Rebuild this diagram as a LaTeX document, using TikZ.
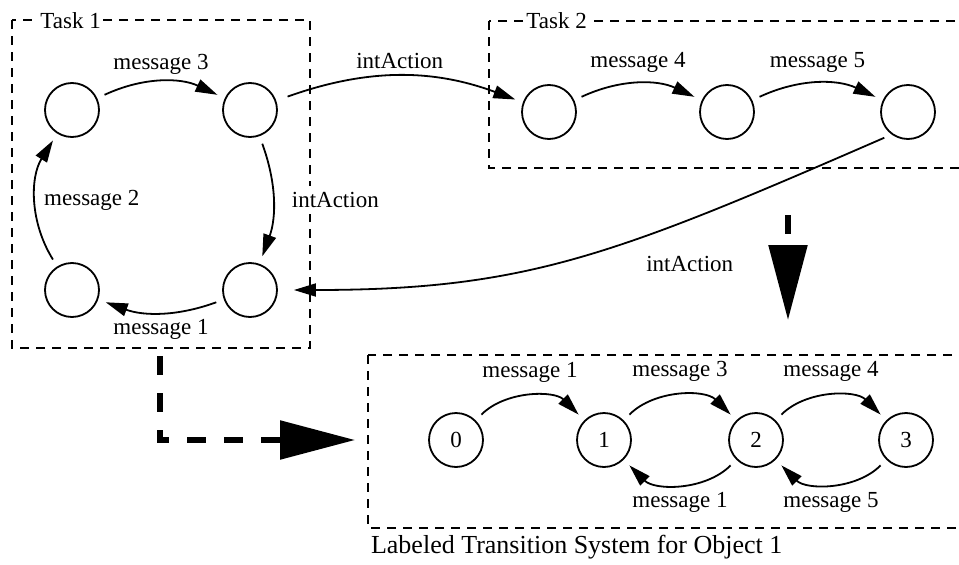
\documentclass[tikz,border=0pt]{standalone}
\usepackage{fontspec}
\setmainfont{Liberation Serif}
\usetikzlibrary{arrows.meta}
\begin{document}
\begin{tikzpicture}[x=0.5pt,y=0.5pt,
        every node/.style={font=\fontsize{11.5}{13}\selectfont},
        state/.style={circle,draw,line width=0.9pt,minimum size=27pt,inner sep=0pt},
        msg/.style={-{Triangle[length=11pt,width=6.5pt]},line width=0.9pt,
            shorten <=4pt,shorten >=4pt},
        tbox/.style={dash pattern=on 4.5pt off 3.5pt,line width=0.6pt},
        boxlabel/.style={fill=white,inner sep=1pt,anchor=west},
        bigarrow/.style={-{Triangle[length=37.5pt,width=19pt]},line width=2.75pt,
            dash pattern=on 9.5pt off 9pt}]
        \useasboundingbox (0,0) rectangle (959,564);

        % Task 1 box
        \draw[tbox] (12,544) rectangle (310,216);
        \node[boxlabel] (t1lbl) at (38,543) {Task 1};
        \node[state] (t1a) at (72,454) {};
        \node[state] (t1b) at (250,454) {};
        \node[state] (t1c) at (72,274) {};
        \node[state] (t1d) at (250,274) {};
        \draw[msg] (t1a) to[bend left=25] node[above] {message 3} (t1b);
        \draw[msg] (t1b) to[bend left=20] node[right=6pt,fill=white] {intAction} (t1d);
        \draw[msg] (t1d) to[bend left=20] node[below] {message 1} (t1c);
        \draw[msg] (t1c) to[bend left=32] node[right] {message 2} (t1a);

        % Task 2 box
        \draw[tbox] (489,543) rectangle (975,396);
        \node[boxlabel] (t2lbl) at (524,543) {Task 2};
        \node[state] (t2a) at (549,452) {};
        \node[state] (t2b) at (727,452) {};
        \node[state] (t2c) at (908,452) {};
        \draw[msg] (t2a) to[bend left=25] node[above=2pt] {message 4} (t2b);
        \draw[msg] (t2b) to[bend left=25] node[above=2pt] {message 5} (t2c);

        % intActions between the tasks
        \draw[msg,shorten <=6pt] (t1b) to[bend left=20] node[above] {intAction} (t2a);
        \draw[msg,shorten >=8pt] (t2c.234) .. controls +(203.5:300) and +(0:250) .. (t1d.east)
            node[pos=0.4,below right,xshift=5pt,yshift=-4pt] {intAction};

        % big arrows
        \coordinate (dn1) at (788,349);
        \coordinate (dn2) at (788,244);
        \draw[bigarrow] (dn1) -- (dn2);
        \coordinate (lt1) at (160,208);
        \coordinate (lt2) at (355,124);
        \draw[bigarrow] (lt1) |- (lt2);

        % labeled transition system
        \draw[tbox] (368,209) rectangle (975,36);
        \node[anchor=west,font=\fontsize{13}{15}\selectfont] (ltstitle) at (364,17)
            {Labeled Transition System for Object 1};
        \node[state] (s0) at (456,124) {0};
        \node[state] (s1) at (604,124) {1};
        \node[state] (s2) at (756,124) {2};
        \node[state] (s3) at (906,124) {3};
        \draw[msg] (s0) to[bend left=45] node[above=4pt] {message 1} (s1);
        \draw[msg] (s1) to[bend left=45] node[above=4pt] {message 3} (s2);
        \draw[msg] (s2) to[bend left=45] node[above=4pt] {message 4} (s3);
        \draw[msg] (s2) to[bend left=45] node[below=1pt] {message 1} (s1);
        \draw[msg] (s3) to[bend left=45] node[below=1pt] {message 5} (s2);
    \end{tikzpicture}
\end{document}
